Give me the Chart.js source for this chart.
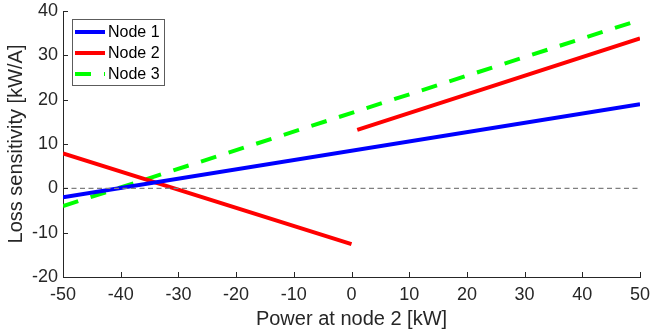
<!DOCTYPE html>
<html><head><meta charset="utf-8">
<script src="https://cdn.jsdelivr.net/npm/chart.js@4/dist/chart.umd.min.js"></script>
<style>html,body{margin:0;padding:0;background:#fff}canvas{display:block}</style>
</head><body>
<canvas id="c" width="651" height="336"></canvas>
<script>
// ---- data ----
const xTicks = [-50, -40, -30, -20, -10, 0, 10, 20, 30, 40, 50];
const yTicks = [-20, -10, 0, 10, 20, 30, 40];
const seriesLabels = ['Node 1', 'Node 2', 'Node 3'];
const node1X = [-50, 50];
const node1Y = [-2, 19];
const node2X = [-50, 0, 0.5, 1, 50];
const node2Y = [7.9, -12.6, null, 13.2, 33.8];
const node3X = [-50, 50];
const node3Y = [-4, 38];
const zeroX = [-50, 50];
const zeroY = [0, 0];

const FONT = '"Liberation Sans", Arial, Helvetica, sans-serif';
const AXIS = '#262626';
const pts = (xs, ys) => xs.map((x, i) => ({x: x, y: ys[i]}));

const tickPlugin = {
  id: 'inTicks',
  afterDraw(chart) {
    const {ctx, chartArea: a, scales: {x, y}} = chart;
    ctx.save();
    ctx.strokeStyle = AXIS;
    ctx.lineWidth = 1;
    ctx.beginPath();
    xTicks.forEach(v => {
      const px = Math.round(x.getPixelForValue(v)) + 0.5;
      ctx.moveTo(px, a.bottom); ctx.lineTo(px, a.bottom - 5);
    });
    yTicks.forEach(v => {
      const py = Math.round(y.getPixelForValue(v)) + 0.5;
      ctx.moveTo(a.left, py); ctx.lineTo(a.left + 5, py);
    });
    ctx.stroke();
    ctx.restore();
  }
};

const legendPlugin = {
  id: 'boxLegend',
  afterDraw(chart) {
    const ctx = chart.ctx;
    const a = chart.chartArea;
    const bx = a.left + 9, by = a.top + 8, bw = 92, bh = 66;
    ctx.save();
    ctx.fillStyle = '#fff';
    ctx.fillRect(bx, by, bw, bh);
    ctx.strokeStyle = 'rgba(38,38,38,0.75)';
    ctx.lineWidth = 1;
    ctx.strokeRect(bx + 0.5, by + 0.5, bw, bh);
    const ds = chart.data.datasets.filter(d => seriesLabels.includes(d.label));
    ds.forEach((d, i) => {
      const cy = by + 13 + i * 21;
      ctx.beginPath();
      ctx.strokeStyle = d.borderColor;
      ctx.lineWidth = d.borderWidth;
      ctx.lineCap = 'butt';
      ctx.setLineDash(d.borderDash || []);
      ctx.moveTo(bx + 3, cy); ctx.lineTo(bx + 33, cy);
      ctx.stroke();
      ctx.setLineDash([]);
      ctx.fillStyle = '#000';
      ctx.font = '16px ' + FONT;
      ctx.textBaseline = 'middle';
      ctx.textAlign = 'left';
      ctx.fillText(d.label, bx + 36, cy + 1);
    });
    ctx.restore();
  }
};

new Chart(document.getElementById('c'), {
  type: 'line',
  data: {
    datasets: [
      {label: 'zero', data: pts(zeroX, zeroY), borderColor: '#7f7f7f', borderWidth: 1.2, borderDash: [5, 3.5], pointRadius: 0, fill: false},
      {label: seriesLabels[0], data: pts(node1X, node1Y), borderColor: '#0000ff', borderWidth: 4, pointRadius: 0, fill: false},
      {label: seriesLabels[1], data: pts(node2X, node2Y), borderColor: '#ff0000', borderWidth: 4, pointRadius: 0, fill: false, spanGaps: false},
      {label: seriesLabels[2], data: pts(node3X, node3Y), borderColor: '#00ff00', borderWidth: 4, borderDash: [16, 13], pointRadius: 0, fill: false}
    ]
  },
  options: {
    responsive: false,
    animation: false,
    layout: {padding: {top: 11, right: 11, left: 0, bottom: 0}},
    plugins: {legend: {display: false}, tooltip: {enabled: false}},
    elements: {line: {tension: 0, borderCapStyle: 'butt'}},
    scales: {
      x: {
        type: 'linear', min: -50, max: 50,
        afterBuildTicks(s) { s.ticks = xTicks.map(v => ({value: v})); },
        afterFit(s) { s.height = 59; s.paddingLeft = 0; s.paddingRight = 0; },
        ticks: {font: {family: FONT, size: 18}, color: AXIS, padding: 7, maxRotation: 0, autoSkip: false},
        grid: {display: true, drawOnChartArea: false, drawTicks: false},
        border: {display: true, color: AXIS, width: 1},
        title: {display: true, text: 'Power at node 2 [kW]', font: {family: FONT, size: 20}, color: AXIS, padding: {top: 0, bottom: 5}}
      },
      y: {
        type: 'linear', min: -20, max: 40,
        afterBuildTicks(s) { s.ticks = yTicks.map(v => ({value: v})); },
        afterFit(s) { s.width = 63; s.paddingTop = 0; s.paddingBottom = 0; },
        ticks: {font: {family: FONT, size: 18}, color: AXIS, padding: 5, autoSkip: false},
        grid: {display: true, drawOnChartArea: false, drawTicks: false},
        border: {display: true, color: AXIS, width: 1},
        title: {display: true, text: 'Loss sensitivity [kW/A]', font: {family: FONT, size: 20}, color: AXIS, padding: {top: 4, bottom: 0}}
      }
    }
  },
  plugins: [tickPlugin, legendPlugin]
});
</script>
</body></html>
